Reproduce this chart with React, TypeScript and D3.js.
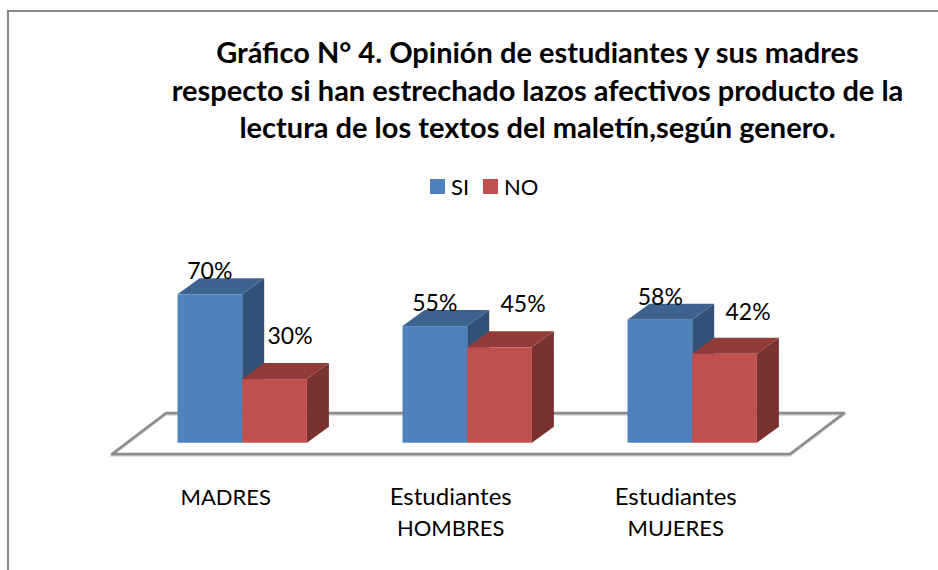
import React from 'react';
import { scaleBand, scaleLinear, scaleOrdinal, line } from 'd3';

const width = 938;
const height = 570;

const categories = ['MADRES', 'Estudiantes HOMBRES', 'Estudiantes MUJERES'];
const categoryLines = [['MADRES'], ['Estudiantes', 'HOMBRES'], ['Estudiantes', 'MUJERES']];
const seriesNames = ['SI', 'NO'];
const siValues = [70, 55, 58];
const noValues = [30, 45, 42];
const seriesValues = [siValues, noValues];
const titleLines = [
  'Gráfico N° 4. Opinión de estudiantes y sus madres',
  'respecto si han estrechado lazos afectivos producto de la',
  'lectura de los textos del maletín,según genero.',
];

const fontFamily = 'Lato, "Open Sans", sans-serif';
const front = ['#4f81bd', '#c0504d'];
const top = ['#3d6391', '#923c3a'];
const side = ['#315177', '#7a3230'];
const depthX = 22;
const depthY = -16;
const baseY = 442.7;
const barW = 64.7;

// hand placed data labels, the original was moved around by its author
const labelDx = [
  [0, 0, 0.5],
  [15.5, 23.5, 23.5],
];
const labelDy = [
  [-15, -15, -15],
  [-35, -35, -34],
];

const x = scaleBand<string>().domain(categories).range([129.7, 804.7]);
const y = scaleLinear().domain([0, 70]).range([baseY, 294.3]);
const color = scaleOrdinal<string, number>().domain(seriesNames).range([0, 1]);
const path = line<[number, number]>();
const closed = (pts: [number, number][]) => path(pts) + 'Z';

const Floor = () => {
  const pts: [number, number][] = [
    [112, 454],
    [166, 413],
    [844, 413],
    [790, 454],
  ];
  return (
    <g>
      <path d={closed(pts)} fill="#fff" />
      <path d={closed(pts.map(([a, b]) => [a, b + 1.5]))} fill="none" stroke="#c4c4c4" strokeWidth={2} />
      <path d={closed(pts)} fill="none" stroke="#8c8c8c" strokeWidth={2.4} strokeLinejoin="round" />
    </g>
  );
};

const Bar = ({ x0, w, value, s }: { x0: number; w: number; value: number; s: number }) => {
  const yTop = y(value);
  const x1 = x0 + w;
  return (
    <g>
      <path
        d={closed([[x1, yTop], [x1 + depthX, yTop + depthY], [x1 + depthX, baseY + depthY], [x1, baseY]])}
        fill={side[s]}
      />
      <path
        d={closed([[x0, yTop], [x0 + depthX, yTop + depthY], [x1 + depthX, yTop + depthY], [x1, yTop]])}
        fill={top[s]}
      />
      <rect x={x0} y={yTop} width={w} height={baseY - yTop} fill={front[s]} />
    </g>
  );
};

const App = () => {
  return (
    <svg
      width={width}
      height={height}
      style={{ position: 'absolute', left: 0, top: 0, background: '#fff' }}
      fontFamily={fontFamily}
    >
      <path d="M938,11H8V570" fill="none" stroke="#878787" strokeWidth={2} />
      {titleLines.map((t, i) => (
        <text key={t} x={537.5} y={63 + i * 37.5} textAnchor="middle" fontSize={29} fontWeight={700} fill="#000">
          {t}
        </text>
      ))}
      {seriesNames.map((n, i) => {
        const lx = [430, 483][i];
        return (
          <g key={n}>
            <rect x={lx} y={179} width={15} height={15} fill={front[color(n)]} />
            <text x={lx + 21} y={195} fontSize={22} fill="#000">
              {n}
            </text>
          </g>
        );
      })}
      <Floor />
      {categories.map((c, ci) => {
        const center = (x(c) as number) + x.bandwidth() / 2;
        return (
          <g key={c}>
            {seriesNames.map((n, s) => (
              <Bar key={n} x0={center - barW + s * barW} w={barW} value={seriesValues[s][ci]} s={s} />
            ))}
            {categoryLines[ci].map((t, i) => (
              <text
                key={t}
                x={center - 16.5}
                y={505 + i * 31}
                textAnchor="middle"
                fontSize={t === 'Estudiantes' ? 24 : 22}
                fill="#000"
              >
                {t}
              </text>
            ))}
          </g>
        );
      })}
      {categories.map((c, ci) => {
        const center = (x(c) as number) + x.bandwidth() / 2;
        return seriesNames.map((n, s) => (
          <text
            key={n}
            x={center - barW / 2 + s * barW + labelDx[s][ci]}
            y={y(seriesValues[s][ci]) + labelDy[s][ci]}
            textAnchor="middle"
            fontSize={23}
            fill="#000"
          >
            {seriesValues[s][ci]}%
          </text>
        ));
      })}
    </svg>
  );
};

export default App;
